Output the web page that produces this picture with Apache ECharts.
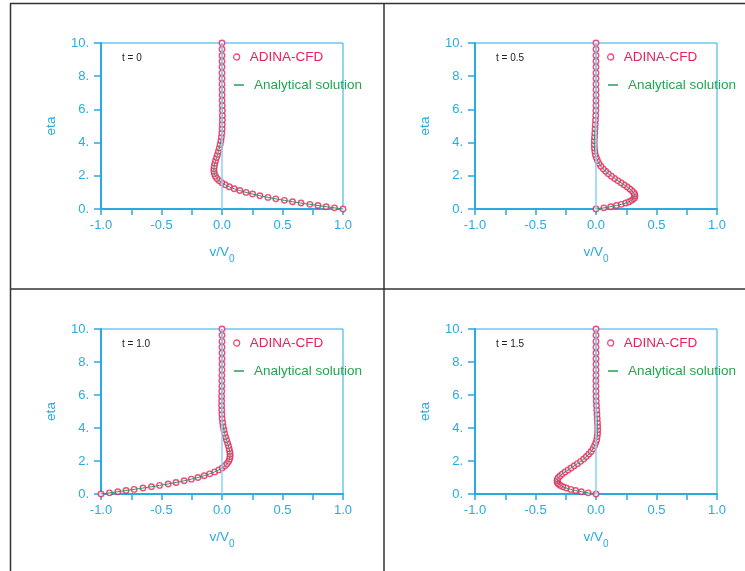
<!DOCTYPE html>
<html>
<head>
<meta charset="utf-8">
<script src="https://cdn.jsdelivr.net/npm/echarts@6/dist/echarts.min.js"></script>
<style>
html,body{margin:0;padding:0;background:#fff;}
#chart{width:745px;height:571px;}
</style>
</head>
<body>
<div id="chart"></div>
<script>
// eta positions of the ADINA-CFD nodes (graded mesh)
const etaValues = [
  0, 0.07, 0.14, 0.21, 0.28, 0.36, 0.44, 0.52, 0.61,
  0.70, 0.80, 0.90, 1.00,
  1.11, 1.22, 1.34, 1.46,
  1.58, 1.71, 1.84, 1.98,
  2.12, 2.27, 2.42, 2.58,
  2.75, 2.92, 3.10, 3.29,
  3.48, 3.68, 3.89, 4.11,
  4.34, 4.58, 4.83, 5.09,
  5.36, 5.64, 5.93, 6.23,
  6.54, 6.86, 7.19, 7.52,
  7.86, 8.20, 8.55, 8.90,
  9.25, 9.62, 10.0
];

// v/V0 at t = 0
const vT0 = [
  1.000, 0.930, 0.861, 0.793, 0.726, 0.653, 0.583, 0.516, 0.445,
  0.380, 0.313, 0.253, 0.199,
  0.147, 0.101, 0.060, 0.026,
  -0.002, -0.025, -0.042, -0.055,
  -0.063, -0.067, -0.067, -0.064,
  -0.059, -0.053, -0.045, -0.037,
  -0.029, -0.022, -0.015, -0.009,
  -0.005, -0.001, 0.001, 0.002,
  0.003, 0.003, 0.003, 0.002,
  0.001, 0.001, 0.001, 0.000,
  0.000, 0.000, 0.000, 0.000,
  0.000, 0.000, 0.000
];

// v/V0 at t = 0.5
const vT05 = [
  0.000, 0.065, 0.121, 0.169, 0.209, 0.246, 0.274, 0.295, 0.311,
  0.320, 0.322, 0.319, 0.310,
  0.295, 0.277, 0.255, 0.231,
  0.206, 0.179, 0.153, 0.127,
  0.102, 0.079, 0.059, 0.040,
  0.024, 0.012, 0.002, -0.006,
  -0.010, -0.013, -0.014, -0.014,
  -0.012, -0.010, -0.008, -0.006,
  -0.004, -0.002, -0.001, 0.000,
  0.000, 0.001, 0.000, 0.000,
  0.000, 0.000, 0.000, 0.000,
  0.000, 0.000, 0.000
];

// v/V0 at t = 1.0
const vT10 = [
  -1.000, -0.930, -0.861, -0.793, -0.726, -0.653, -0.583, -0.516, -0.445,
  -0.380, -0.313, -0.253, -0.199,
  -0.147, -0.101, -0.060, -0.026,
  0.002, 0.025, 0.042, 0.055,
  0.063, 0.067, 0.067, 0.064,
  0.059, 0.053, 0.045, 0.037,
  0.029, 0.022, 0.015, 0.009,
  0.005, 0.001, -0.001, -0.002,
  -0.003, -0.003, -0.003, -0.002,
  -0.001, -0.001, -0.001, 0.000,
  0.000, 0.000, 0.000, 0.000,
  0.000, 0.000, 0.000
];

// v/V0 at t = 1.5
const vT15 = [
  0.000, -0.065, -0.121, -0.169, -0.209, -0.246, -0.274, -0.295, -0.311,
  -0.320, -0.322, -0.319, -0.310,
  -0.295, -0.277, -0.255, -0.231,
  -0.206, -0.179, -0.153, -0.127,
  -0.102, -0.079, -0.059, -0.040,
  -0.024, -0.012, -0.002, 0.006,
  0.010, 0.013, 0.014, 0.014,
  0.012, 0.010, 0.008, 0.006,
  0.004, 0.002, 0.001, 0.000,
  0.000, -0.001, 0.000, 0.000,
  0.000, 0.000, 0.000, 0.000,
  0.000, 0.000, 0.000
];

const panelSeries = [vT0, vT05, vT10, vT15];
const panelTitles = ['t = 0', 't = 0.5', 't = 1.0', 't = 1.5'];
const seriesNames = ['ADINA-CFD', 'Analytical solution'];
const xMin = -1, xMax = 1, xStep = 0.5;
const yMin = 0, yMax = 10, yStep = 2;

const AXIS = '#29abe2';
const ZERO = '#8ad2f3';
const RED = '#e8205c';
const GREEN = '#22a64e';
const LINEGREEN = '#2b9a58';

const layout = [
  {left: 101, top: 43, width: 242, height: 166},
  {left: 475, top: 43, width: 242, height: 166},
  {left: 101, top: 329, width: 242, height: 165},
  {left: 475, top: 329, width: 242, height: 165}
];

const grids = [], xAxes = [], yAxes = [], series = [], legends = [], titles = [];
layout.forEach((g, i) => {
  grids.push({left: g.left, top: g.top, width: g.width, height: g.height,
    show: true, borderColor: AXIS, borderWidth: 1, backgroundColor: 'transparent'});
  xAxes.push({
    gridIndex: i, type: 'value', min: xMin, max: xMax, interval: xStep,
    axisLine: {show: true, onZero: false, lineStyle: {color: AXIS, width: 2}},
    axisTick: {show: true, length: 6, lineStyle: {color: AXIS, width: 1.5}},
    minorTick: {show: true, splitNumber: 2, length: 6, lineStyle: {color: AXIS, width: 1.5}},
    splitLine: {show: false},
    axisLabel: {color: AXIS, fontSize: 13, fontFamily: 'Liberation Sans', margin: 10,
      formatter: v => v.toFixed(1)},
    name: '{a|v/V}{b|0}', nameLocation: 'middle', nameGap: 36,
    nameTextStyle: {rich: {
      a: {color: AXIS, fontSize: 13.5, fontFamily: 'Liberation Sans', lineHeight: 16, verticalAlign: 'top'},
      b: {color: AXIS, fontSize: 10, fontFamily: 'Liberation Sans', lineHeight: 19, verticalAlign: 'bottom'}
    }}
  });
  yAxes.push({
    gridIndex: i, type: 'value', min: yMin, max: yMax, interval: yStep,
    axisLine: {show: true, onZero: false, lineStyle: {color: AXIS, width: 2}},
    axisTick: {show: true, length: 7, lineStyle: {color: AXIS, width: 1.5}},
    splitLine: {show: false},
    axisLabel: {color: AXIS, fontSize: 13, fontFamily: 'Liberation Sans', margin: 12,
      formatter: v => v + '.'},
    name: 'eta', nameLocation: 'middle', nameGap: 43,
    nameTextStyle: {color: AXIS, fontSize: 13.5, fontFamily: 'Liberation Sans'}
  });
  const vals = panelSeries[i];
  const pts = etaValues.map((e, k) => [vals[k], e]);
  series.push({
    name: seriesNames[0], type: 'scatter', xAxisIndex: i, yAxisIndex: i,
    symbol: 'circle', symbolSize: 5.5, z: 2,
    itemStyle: {color: '#fff', borderColor: RED, borderWidth: 1.4},
    data: pts,
    markLine: {silent: true, symbol: 'none', label: {show: false}, animation: false,
      lineStyle: {color: ZERO, width: 1.5, type: 'solid'}, data: [{xAxis: 0}]}
  });
  series.push({
    name: seriesNames[1], type: 'line', xAxisIndex: i, yAxisIndex: i,
    symbol: 'none', showSymbol: false, z: 4,
    lineStyle: {color: LINEGREEN, width: 1}, itemStyle: {color: LINEGREEN},
    data: pts
  });
  legends.push({
    left: g.left + 132, top: g.top + 7, padding: 0,
    itemWidth: 6, itemHeight: 6, selectedMode: false,
    textStyle: {fontSize: 13.5, fontFamily: 'Liberation Sans'},
    data: [
      {name: seriesNames[0], icon: 'circle',
        itemStyle: {color: '#fff', borderColor: RED, borderWidth: 1.3},
        textStyle: {color: RED, padding: [0, 0, 0, 5]}}
    ]
  });
  legends.push({
    left: g.left + 133, top: g.top + 35, padding: 0,
    itemWidth: 10, itemHeight: 1.5, selectedMode: false,
    textStyle: {fontSize: 13.5, fontFamily: 'Liberation Sans'},
    data: [
      {name: seriesNames[1], icon: 'rect',
        itemStyle: {color: LINEGREEN, borderWidth: 0},
        textStyle: {color: GREEN, padding: [0, 0, 0, 5]}}
    ]
  });
  titles.push({
    text: panelTitles[i], left: g.left + 21, top: g.top + 10, padding: 0,
    textStyle: {fontSize: 10, fontWeight: 'normal', color: '#222', fontFamily: 'Liberation Sans'}
  });
});

const BORDER = '#333';
const chart = echarts.init(document.getElementById('chart'), null, {renderer: 'canvas'});
chart.setOption({
  animation: false,
  backgroundColor: '#fff',
  title: titles,
  legend: legends,
  grid: grids,
  xAxis: xAxes,
  yAxis: yAxes,
  series: series,
  graphic: [
    {type: 'line', shape: {x1: 10, y1: 3.5, x2: 745, y2: 3.5}, style: {stroke: BORDER, lineWidth: 1.5}, silent: true},
    {type: 'line', shape: {x1: 10.5, y1: 3, x2: 10.5, y2: 571}, style: {stroke: BORDER, lineWidth: 1.5}, silent: true},
    {type: 'line', shape: {x1: 384, y1: 3, x2: 384, y2: 571}, style: {stroke: BORDER, lineWidth: 1.5}, silent: true},
    {type: 'line', shape: {x1: 10, y1: 289, x2: 745, y2: 289}, style: {stroke: BORDER, lineWidth: 1.5}, silent: true}
  ]
});
</script>
</body>
</html>
